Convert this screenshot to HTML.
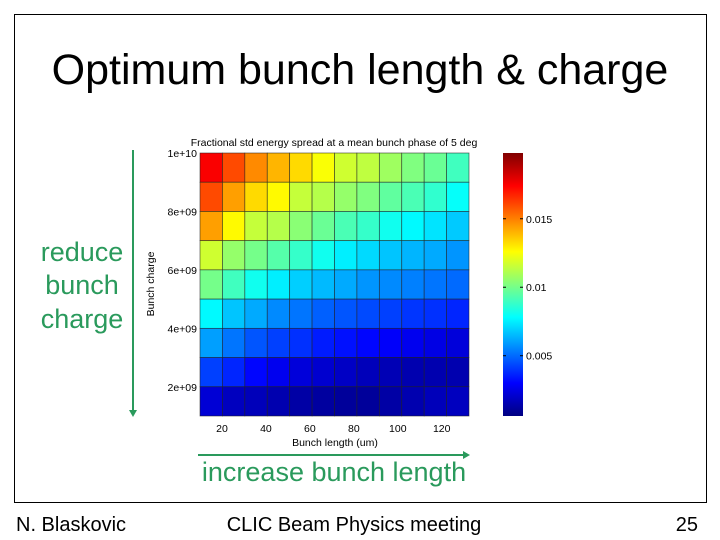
<!DOCTYPE html>
<html><head><meta charset="utf-8"><style>
body{margin:0;background:#fff;width:720px;height:540px;overflow:hidden;font-family:"Liberation Sans",sans-serif}
svg{display:block}
</style></head><body>
<svg id="s" width="720" height="540">
<rect x="14.5" y="14.5" width="692" height="488" fill="none" stroke="#000" stroke-width="1"/>
<text x="360" y="84" font-size="43" text-anchor="middle">Optimum bunch length &amp; charge</text>
<g fill="#2a9a5c" font-size="27" text-anchor="middle">
<text x="82" y="261">reduce</text><text x="82" y="294">bunch</text><text x="82" y="328">charge</text></g>
<line x1="133" y1="150" x2="133" y2="410" stroke="#2a9a5c" stroke-width="2"/>
<polygon points="129,410 137,410 133,417" fill="#2a9a5c"/>
<line x1="198" y1="455" x2="463" y2="455" stroke="#2a9a5c" stroke-width="2"/>
<polygon points="463,451 463,459 470,455" fill="#2a9a5c"/>
<text x="334" y="481" font-size="27" fill="#2a9a5c" text-anchor="middle">increase bunch length</text>
<text x="16" y="531" font-size="20">N. Blaskovic</text>
<text x="354" y="531" font-size="20" text-anchor="middle">CLIC Beam Physics meeting</text>
<text x="698" y="531" font-size="20" text-anchor="end">25</text>
<text x="334" y="146" font-size="10.5" text-anchor="middle">Fractional std energy spread at a mean bunch phase of 5 deg</text>
<text x="335" y="446" font-size="10.5" text-anchor="middle">Bunch length (um)</text>
<text transform="translate(154,284) rotate(-90)" font-size="10.5" text-anchor="middle">Bunch charge</text>
<g id="cells"></g><g id="grid"></g><g id="ticks"></g>
<defs><linearGradient id="jet" x1="0" y1="1" x2="0" y2="0">
<stop offset="0" stop-color="#000080"/><stop offset="0.125" stop-color="#0000ff"/><stop offset="0.375" stop-color="#00ffff"/><stop offset="0.625" stop-color="#ffff00"/><stop offset="0.875" stop-color="#ff0000"/><stop offset="1" stop-color="#800000"/></linearGradient></defs>
<rect x="503" y="153" width="20" height="263" fill="url(#jet)"/>
<g id="cbticks"></g>
</svg>
<script>
const xEdges=[10,20,30,40,50,60,70,80,90,100,110,120,130];
const yEdges=[1e10,9e9,8e9,7e9,6e9,5e9,4e9,3e9,2e9,1e9];
const xTicks=[20,40,60,80,100,120];
const yTicks=[1e10,8e9,6e9,4e9,2e9];
const yTickLabels=["1e+10","8e+09","6e+09","4e+09","2e+09"];
const cbTicks=[0.005,0.01,0.015];
const cbTickLabels=["0.005","0.01","0.015"];
const row1=[0.0175,0.0160,0.0148,0.0140,0.0133,0.0125,0.0117,0.0114,0.0108,0.0102,0.0098,0.0090];
const row2=[0.0160,0.0144,0.0133,0.0127,0.0115,0.0112,0.0106,0.0102,0.0096,0.0092,0.0087,0.0079];
const row3=[0.0144,0.0127,0.0115,0.0112,0.0104,0.0098,0.0092,0.0088,0.0081,0.0077,0.0073,0.0068];
const row4=[0.0117,0.0106,0.0100,0.0094,0.0088,0.0081,0.0075,0.0071,0.0067,0.0064,0.0062,0.0058];
const row5=[0.0100,0.0090,0.0081,0.0075,0.0069,0.0065,0.0062,0.0058,0.0056,0.0054,0.0052,0.0050];
const row6=[0.0077,0.0067,0.0062,0.0056,0.0052,0.0048,0.0046,0.0044,0.0042,0.0040,0.0039,0.0037];
const row7=[0.0060,0.0052,0.0046,0.0042,0.0039,0.0035,0.0033,0.0031,0.0029,0.0027,0.0025,0.0023];
const row8=[0.0042,0.0037,0.0031,0.0027,0.0023,0.0021,0.0019,0.0017,0.0016,0.0015,0.0015,0.0015];
const row9=[0.0022,0.0018,0.0017,0.0015,0.0013,0.0012,0.0011,0.0011,0.0013,0.0015,0.0017,0.0018];
const rows=[row1,row2,row3,row4,row5,row6,row7,row8,row9];
const cMin=0.0006,cMax=0.0198;
const NS='http://www.w3.org/2000/svg';
const x0=200,x1=469,y0=153,y1=416;
function xs(v){return x0+(v-10)/(132.4-10)*(x1-x0);}
function xe(i){return x0+i*(x1-x0)/12;}
function ys(v){return y1-(v-1e9)/(9e9)*(y1-y0);}
function cs(v){return y1-(v-cMin)/(cMax-cMin)*(y1-y0);}
function jet(t){t=Math.max(0,Math.min(1,t));
 function f(a){return Math.max(0,Math.min(1,1.5-Math.abs(4*t-a)));}
 return 'rgb('+Math.round(255*f(3))+','+Math.round(255*f(2))+','+Math.round(255*f(1))+')';}
function mk(tag,attrs,parent){const e=document.createElementNS(NS,tag);for(const k in attrs)e.setAttribute(k,attrs[k]);parent.appendChild(e);return e;}
const cells=document.getElementById('cells');
rows.forEach((r,ri)=>{r.forEach((v,ci)=>{
 const e=mk('rect',{x:xe(ci),y:ys(yEdges[ri]),width:xe(ci+1)-xe(ci),height:ys(yEdges[ri+1])-ys(yEdges[ri]),fill:jet((v-cMin)/(cMax-cMin)),stroke:'#222','stroke-width':0.7,'stroke-opacity':0.75},cells);
 
 
});});
const tk=document.getElementById('ticks');
xTicks.forEach(v=>{const t=mk('text',{x:xs(v),y:432,'font-size':10.5,'text-anchor':'middle'},tk);t.textContent=v;
 
 });
yTicks.forEach((v,i)=>{const t=mk('text',{x:197,y:ys(v)+4,'font-size':10.5,'text-anchor':'end'},tk);t.textContent=yTickLabels[i];
 
 });
const cb=document.getElementById('cbticks');
cbTicks.forEach((v,i)=>{mk('line',{x1:523,x2:520,y1:cs(v),y2:cs(v),stroke:'#000'},cb);
 mk('line',{x1:503,x2:506,y1:cs(v),y2:cs(v),stroke:'#000'},cb);
 const t=mk('text',{x:526,y:cs(v)+4,'font-size':10.5},cb);t.textContent=cbTickLabels[i];
 
 });
</script>
</body></html>
